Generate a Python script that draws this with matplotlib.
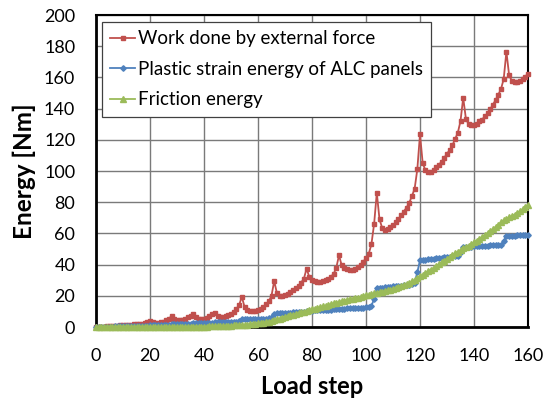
import numpy as np
import matplotlib
matplotlib.use("Agg")
import matplotlib.pyplot as plt

# ================= DATA ================= #
work_external = [
    0.0, 0.1, 0.2, 0.3, 0.4, 0.5, 0.6, 0.7, 0.8, 1.0,
    1.2, 1.4, 1.5, 1.6, 1.7, 1.8, 1.9, 2.2, 2.6, 3.1,
    3.8, 3.0, 2.6, 2.6, 2.9, 3.4, 4.2, 5.4, 7.0, 5.2,
    4.5, 4.3, 4.6, 5.3, 6.2, 7.2, 8.3, 6.2, 5.2, 4.9,
    5.2, 6.0, 7.0, 8.1, 9.2, 7.3, 6.6, 6.5, 6.8, 7.4,
    8.4, 9.8, 11.6, 14.0, 19.4, 13.0, 10.8, 10.2, 10.0, 10.3,
    10.9, 11.8, 13.0, 14.5, 16.5, 20.0, 29.5, 21.7, 19.8, 19.6,
    20.2, 21.2, 22.5, 23.8, 25.0, 26.5, 28.5, 31.0, 37.5, 32.0,
    30.0, 29.2, 28.8, 28.9, 29.3, 30.0, 31.0, 32.3, 34.0, 38.0,
    46.0, 39.5, 37.8, 37.0, 36.7, 36.8, 37.3, 38.2, 39.8, 41.8,
    44.2, 46.8, 53.0, 66.0, 86.0, 69.0, 63.5, 62.5, 62.8, 63.8,
    65.2, 67.0, 69.0, 71.5, 74.0, 76.5, 79.5, 84.0, 88.5, 101.0,
    123.5, 105.0, 100.5, 99.2, 99.6, 100.8, 102.3, 104.0, 106.0, 108.5,
    111.0, 113.5, 116.5, 120.5, 124.5, 132.0, 147.0, 133.5, 130.0, 129.4,
    129.4, 130.3, 131.8, 133.0, 135.0, 137.0, 139.5, 142.5, 145.5, 149.0,
    152.5, 159.0, 176.5, 161.5, 157.8, 157.0, 157.0, 157.8, 159.0, 160.5,
    162.5,
]

plastic_alc = [
    0.0, 0.05, 0.1, 0.15, 0.2, 0.25, 0.3, 0.35, 0.4, 0.45,
    0.5, 0.55, 0.6, 0.65, 0.7, 0.75, 0.8, 0.85, 0.9, 0.95,
    1.1, 1.2, 1.25, 1.3, 1.35, 1.4, 1.45, 1.5, 1.7, 1.8,
    1.85, 1.9, 1.95, 2.0, 2.05, 2.1, 2.3, 2.4, 2.45, 2.5,
    2.55, 2.6, 2.65, 2.7, 3.0, 3.1, 3.15, 3.2, 3.25, 3.3,
    3.35, 3.4, 3.5, 4.0, 4.9, 5.0, 5.05, 5.1, 5.15, 5.2,
    5.25, 5.3, 5.35, 5.4, 5.5, 6.5, 8.5, 8.7, 8.8, 8.9,
    9.0, 9.1, 9.2, 9.3, 9.4, 9.5, 9.6, 9.7, 10.2, 10.4,
    10.5, 10.6, 10.7, 10.8, 10.9, 11.0, 11.1, 11.2, 11.3, 11.4,
    11.6, 11.7, 11.8, 11.9, 12.0, 12.1, 12.2, 12.3, 12.4, 12.5,
    12.6, 12.8, 13.5, 18.0, 24.8, 25.0, 25.2, 25.4, 25.6, 25.8,
    26.0, 26.2, 26.4, 26.6, 26.8, 27.0, 27.2, 27.5, 28.5, 35.0,
    42.8, 43.0, 43.2, 43.4, 43.6, 43.8, 44.0, 44.2, 44.4, 44.6,
    44.8, 45.0, 45.2, 45.4, 45.6, 48.0, 51.3, 51.4, 51.5, 51.6,
    51.7, 51.8, 51.9, 52.0, 52.1, 52.2, 52.3, 52.4, 52.5, 52.6,
    52.8, 55.0, 58.3, 58.4, 58.5, 58.6, 58.7, 58.8, 58.9, 59.0,
    59.0,
]

friction = [
    0.0, 0.0, 0.0, 0.0, 0.0, 0.0, 0.0, 0.0, 0.0, 0.0,
    0.0, 0.0, 0.0, 0.0, 0.0, 0.0, 0.0, 0.0, 0.0, 0.0,
    0.05, 0.05, 0.05, 0.05, 0.05, 0.1, 0.1, 0.1, 0.1, 0.1,
    0.15, 0.15, 0.15, 0.15, 0.2, 0.2, 0.2, 0.2, 0.25, 0.25,
    0.25, 0.3, 0.35, 0.4, 0.45, 0.5, 0.55, 0.6, 0.7, 0.8,
    0.9, 1.0, 1.1, 1.2, 1.3, 1.4, 1.5, 1.7, 1.9, 2.1,
    2.3, 2.5, 2.8, 3.1, 3.5, 3.9, 4.4, 4.9, 5.4, 5.9,
    6.4, 6.9, 7.4, 7.9, 8.4, 8.9, 9.4, 9.9, 10.4, 10.9,
    11.4, 11.8, 12.3, 12.8, 13.2, 13.7, 14.2, 14.7, 15.1, 15.6,
    16.1, 16.5, 16.9, 17.3, 17.7, 18.1, 18.5, 18.9, 19.3, 19.8,
    20.3, 20.7, 21.1, 21.5, 21.9, 22.2, 22.6, 23.0, 23.5, 24.0,
    24.6, 25.2, 25.8, 26.4, 27.0, 27.7, 28.4, 29.2, 30.1, 31.2,
    32.4, 33.5, 34.6, 35.7, 36.8, 37.9, 39.0, 40.2, 41.4, 42.6,
    43.8, 45.0, 46.1, 47.2, 48.3, 49.4, 50.4, 51.2, 52.2, 53.2,
    54.3, 55.4, 56.6, 57.8, 59.0, 60.3, 61.6, 62.9, 64.2, 65.6,
    67.0, 68.4, 69.5, 70.3, 71.1, 72.0, 73.0, 74.2, 75.6, 77.0,
    78.5,
]

load_step = np.arange(len(work_external))

SERIES_NAMES = ["Work done by external force",
                "Plastic strain energy of ALC panels",
                "Friction energy"]

# ================= STYLE ================= #
RED = "#C0504D"
BLUE = "#4F81BD"
GREEN = "#9BBB59"
FONT = ["Lato", "DejaVu Sans"]

plt.rcParams["font.family"] = FONT

fig = plt.figure(figsize=(5.44, 4.03), dpi=100, facecolor="white")
ax = fig.add_axes([96 / 544, 1 - 327 / 403, 432 / 544, 312 / 403])

ax.plot(load_step, work_external, color=RED, marker="s", markersize=3.2,
        linewidth=1.3, label=SERIES_NAMES[0], zorder=3, clip_on=False)
ax.plot(load_step, plastic_alc, color=BLUE, marker="D", markersize=2.8,
        linewidth=1.3, label=SERIES_NAMES[1], zorder=3, clip_on=False)
ax.plot(load_step, friction, color=GREEN, marker="^", markersize=3.8,
        linewidth=1.3, label=SERIES_NAMES[2], zorder=3, clip_on=False)

ax.set_xlim(0, 160)
ax.set_ylim(0, 200)
ax.set_xticks(np.arange(0, 161, 20))
ax.set_yticks(np.arange(0, 201, 20))
ax.grid(True, color="#7a7a7a", linewidth=1.0)
ax.set_axisbelow(True)

ax.tick_params(axis="both", length=0, labelsize=13, colors="black")
ax.tick_params(axis="x", pad=15)
ax.tick_params(axis="y", pad=15)

for side in ["top", "right"]:
    ax.spines[side].set_linewidth(1.5)
for side in ["left", "bottom"]:
    ax.spines[side].set_linewidth(2.0)

ax.set_xlabel("Load step", fontsize=17, fontweight="bold", labelpad=8)
ax.set_ylabel("Energy [Nm]", fontsize=17.5, fontweight="bold", labelpad=6)

leg = ax.legend(loc="upper left", bbox_to_anchor=(0.014, 0.978),
                borderaxespad=0, fontsize=13.5, handlelength=1.3,
                handletextpad=0.15, labelspacing=0.72, borderpad=0.45,
                fancybox=False, framealpha=1, edgecolor="#404040")
leg.get_frame().set_linewidth(0.9)

fig.savefig("out.png", dpi=100, facecolor="white")
